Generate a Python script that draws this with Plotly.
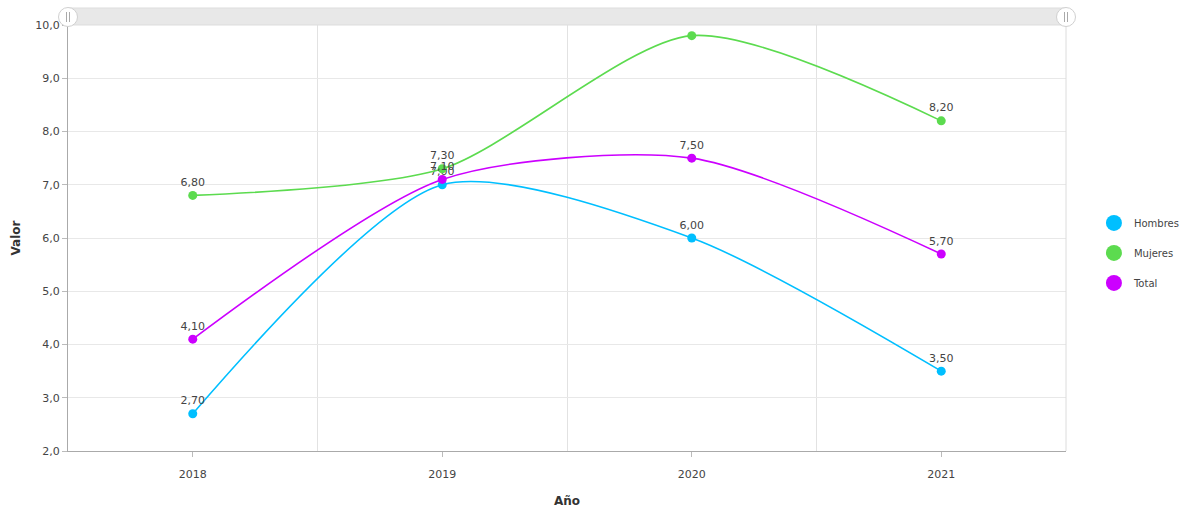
import plotly.graph_objects as go

# Categories and series
years = ["2018", "2019", "2020", "2021"]
hombres = [2.7, 7.0, 6.0, 3.5]
mujeres = [6.8, 7.3, 9.8, 8.2]
total = [4.1, 7.1, 7.5, 5.7]

y_ticks = [2, 3, 4, 5, 6, 7, 8, 9, 10]
Y_MAX = 10

series = [
    ("Hombres", hombres, "#00bfff"),
    ("Mujeres", mujeres, "#5cdb4f"),
    ("Total", total, "#cc00ff"),
]

FONT = "DejaVu Sans"
xpos = list(range(len(years)))


def value_labels(vals):
    # labels that would not fit below the top of the plot are left out
    return [f"{v:.2f}".replace(".", ",") if v < Y_MAX - 0.35 else "" for v in vals]


fig = go.Figure()

for name, vals, color in series:
    fig.add_trace(go.Scatter(
        x=xpos, y=vals, name=name, mode="lines+markers+text",
        line=dict(color=color, width=1.6, shape="spline", smoothing=0.75),
        marker=dict(color=color, size=9),
        text=value_labels(vals), textposition="top center",
        textfont=dict(family=FONT, size=11, color="#444"),
        showlegend=False, hoverinfo="skip", cliponaxis=True,
    ))

# Legend entries drawn as plain circles
for name, vals, color in series:
    fig.add_trace(go.Scatter(
        x=[None], y=[None], name=name, mode="markers", legendgroup=name,
        marker=dict(color=color, size=18), showlegend=True,
    ))

shapes = [
    # scrollbar track above the plot
    dict(type="rect", xref="paper", yref="paper", x0=0, x1=1,
         ysizemode="pixel", yanchor=1, y0=0, y1=17,
         fillcolor="#e8e8e8", line=dict(color="#dddddd", width=1), layer="above"),
    # right border of the plot area
    dict(type="line", xref="paper", yref="paper", x0=1, x1=1, y0=0, y1=1,
         line=dict(color="#dcdcdc", width=1)),
]
for xa in (0, 1):
    shapes.append(dict(type="circle", xref="paper", yref="paper",
                       xsizemode="pixel", xanchor=xa, x0=-9.5, x1=9.5,
                       ysizemode="pixel", yanchor=1, y0=-1.5, y1=17.5,
                       fillcolor="white", line=dict(color="#d0d0d0", width=1),
                       layer="above"))
    for dx in (-1.5, 1.5):
        shapes.append(dict(type="line", xref="paper", yref="paper",
                           xsizemode="pixel", xanchor=xa, x0=dx, x1=dx,
                           ysizemode="pixel", yanchor=1, y0=3, y1=13,
                           line=dict(color="#aaaaaa", width=1), layer="above"))

fig.update_layout(
    width=1184, height=508,
    margin=dict(l=68, r=118, t=25, b=57, autoexpand=False),
    paper_bgcolor="white", plot_bgcolor="white",
    separators=",.",
    font=dict(family=FONT, size=11, color="#444"),
    showlegend=True,
    legend=dict(x=1.028, xanchor="left", xref="paper", y=0.465, yanchor="middle",
                font=dict(family=FONT, size=10, color="#444"),
                itemsizing="trace", tracegroupgap=11, itemwidth=30,
                bgcolor="rgba(0,0,0,0)"),
    shapes=shapes,
    xaxis=dict(
        range=[-0.5, 3.5], tickvals=xpos, ticktext=years,
        showgrid=False, zeroline=False, automargin=False,
        showline=True, linecolor="#aaaaaa", linewidth=1,
        ticks="outside", ticklen=5, tickcolor="#bbbbbb", ticklabelstandoff=8,
        tickfont=dict(family=FONT, size=11, color="#444"),
        minor=dict(tickvals=[0.5, 1.5, 2.5], showgrid=True,
                   gridcolor="#e2e2e2", gridwidth=1, ticks=""),
        title=dict(text="<b>Año</b>", font=dict(family=FONT, size=12, color="#333"),
                   standoff=16),
        fixedrange=True,
    ),
    yaxis=dict(
        range=[2, Y_MAX], tickvals=y_ticks, tickformat=".1f",
        showgrid=True, gridcolor="#e8e8e8", gridwidth=1, zeroline=False,
        automargin=False,
        showline=True, linecolor="#aaaaaa", linewidth=1,
        ticks="outside", ticklen=5, tickcolor="#bbbbbb",
        tickfont=dict(family=FONT, size=11, color="#444"),
        title=dict(text="<b>Valor</b>", font=dict(family=FONT, size=12, color="#333"),
                   standoff=12),
        fixedrange=True,
    ),
)

fig.write_html("out.html")
